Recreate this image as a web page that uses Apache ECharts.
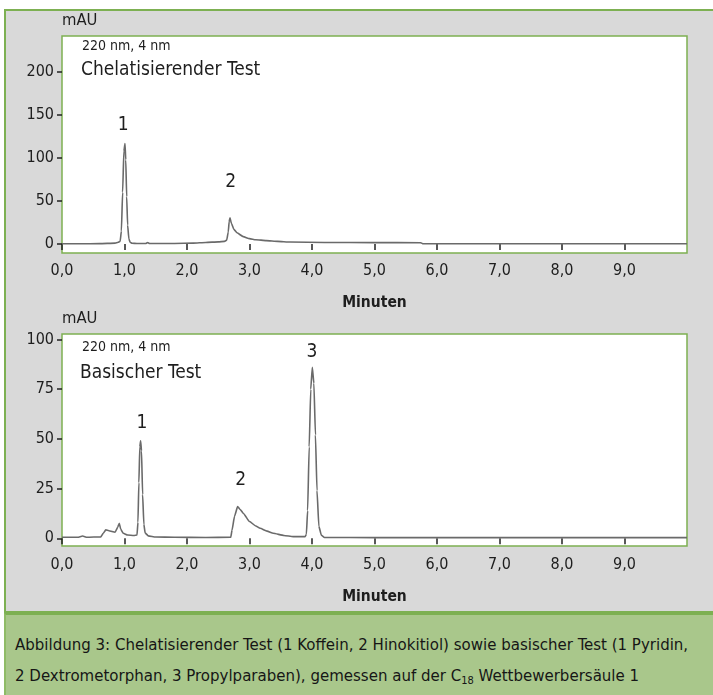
<!DOCTYPE html>
<html>
<head>
<meta charset="utf-8">
<script src="https://cdn.jsdelivr.net/npm/echarts@6/dist/echarts.min.js"></script>
<style>
html,body{margin:0;padding:0;background:#fff;}
#wrap{position:relative;width:713px;height:695px;overflow:hidden;background:#fff;}
#panel{position:absolute;left:4px;top:9px;width:720px;height:604px;background:#d9d9d9;border:2px solid #7db052;box-sizing:border-box;}
#caption{position:absolute;left:4px;top:613px;width:720px;height:90px;background:#a9c78b;border-top:2px solid #7db052;border-left:2px solid #8fbb66;box-sizing:border-box;
 font-family:"DejaVu Sans Condensed","DejaVu Sans",sans-serif;font-size:16.7px;color:#161616;line-height:31px;padding:14px 0 0 9px;white-space:nowrap;}
#caption sub{font-size:11px;vertical-align:-3px;line-height:0;}
#chart{position:absolute;left:0;top:0;width:713px;height:613px;}
</style>
</head>
<body>
<div id="wrap">
<div id="panel"></div>
<div id="caption">Abbildung 3: Chelatisierender Test (1 Koffein, 2 Hinokitiol) sowie basischer Test (1 Pyridin,<br>2 Dextrometorphan, 3 Propylparaben), gemessen auf der C<sub>18</sub> Wettbewerbersäule 1</div>
<div id="chart"></div>
</div>
<script>
// ---- Data ----
// Top: Chelatisierender Test
var chelTime  = [0, 0.3, 0.6, 0.85, 0.9, 0.93, 0.95, 0.97, 0.99, 1.008, 1.02, 1.035, 1.05, 1.07, 1.09, 1.12, 1.2, 1.34, 1.37, 1.4, 1.5, 1.8, 2.1, 2.3, 2.5, 2.6, 2.635, 2.66, 2.675, 2.688, 2.71, 2.75, 2.8, 2.9, 3.0, 3.1, 3.27, 3.45, 3.65, 4.2, 5.0, 5.74, 5.77, 7.0, 8.5, 10.0];
var chelValue = [0.3, 0.3, 0.4, 1.0, 2.0, 3.0, 15, 60, 108, 117, 98, 55, 22, 6, 2.0, 0.8, 0.5, 0.6, 1.6, 0.6, 0.5, 0.6, 1.0, 1.8, 2.4, 3.0, 4.5, 14, 26, 30.5, 24, 17, 13, 8.5, 6.2, 5.0, 3.9, 3.0, 2.3, 1.8, 1.6, 1.5, 0.3, 0.3, 0.3, 0.3];
// Bottom: Basischer Test
var basTime  = [0, 0.25, 0.33, 0.4, 0.62, 0.66, 0.70, 0.75, 0.85, 0.89, 0.917, 0.94, 0.98, 1.05, 1.15, 1.2, 1.215, 1.23, 1.245, 1.258, 1.272, 1.29, 1.31, 1.33, 1.38, 1.5, 1.8, 2.3, 2.7, 2.72, 2.76, 2.81, 2.85, 2.9, 3.0, 3.1, 3.17, 3.28, 3.38, 3.55, 3.7, 3.89, 3.91, 3.93, 3.955, 3.98, 4.005, 4.03, 4.055, 4.08, 4.11, 4.15, 4.2, 5.0, 7.0, 10.0];
var basValue = [0.5, 0.5, 1.1, 0.5, 0.7, 2.5, 4.2, 3.8, 3.0, 5.5, 7.5, 4.5, 2.5, 1.6, 1.4, 1.6, 8, 28, 46, 49, 44, 22, 7, 2.7, 1.2, 0.6, 0.5, 0.4, 0.5, 4, 11, 15.9, 14.5, 12.6, 8.4, 6.2, 5.0, 3.6, 2.5, 1.4, 0.8, 0.8, 2, 14, 46, 75, 86, 78, 52, 24, 6, 1.5, 0.4, 0.3, 0.3, 0.3];
// Peak labels: [time, label position in data units, text]
var chelPeaks = [[0.98, 138, '1'], [2.70, 72, '2']];
var basPeaks  = [[1.28, 58, '1'], [2.86, 29.5, '2'], [4.0, 93.5, '3']];
var xTicks = [0,1,2,3,4,5,6,7,8,9];
var chelYTicks = [0, 50, 100, 150, 200];
var basYTicks  = [0, 25, 50, 75, 100];

function zip(a, b){ return a.map(function(t, i){ return [t, b[i]]; }); }
var FONT = '"DejaVu Sans Condensed","DejaVu Sans",sans-serif';
var TXT = '#1e1e1e';
var GREEN = '#7db052';

function xAxisCfg(gi, nameGap, margin){
  return {
    type:'value', gridIndex:gi, min:0, max:10,
    axisLine:{show:false},
    splitLine:{show:false},
    axisTick:{show:true, length:6, lineStyle:{color:'#222', width:1.5}, customValues:xTicks},
    axisLabel:{customValues:xTicks, margin:margin, fontFamily:FONT, fontSize:16, color:TXT,
      formatter:function(v){ return v.toFixed(1).replace('.', ','); }},
    name:'Minuten', nameLocation:'middle', nameGap:nameGap,
    nameTextStyle:{fontFamily:FONT, fontSize:15.5, fontWeight:'bold', color:TXT}
  };
}
function yAxisCfg(gi, min, max, ticks){
  return {
    type:'value', gridIndex:gi, min:min, max:max,
    axisLine:{show:false},
    splitLine:{show:false},
    axisTick:{show:true, length:5, lineStyle:{color:'#222', width:1.5}, customValues:ticks},
    axisLabel:{customValues:ticks, margin:8, fontFamily:FONT, fontSize:16, color:TXT},
    name:'mAU', nameLocation:'end', nameGap:7,
    nameTextStyle:{fontFamily:FONT, fontSize:16.5, color:TXT, align:'left'}
  };
}
function lineSeries(xi, yi, data){
  return {
    type:'line', xAxisIndex:xi, yAxisIndex:yi, data:data, showSymbol:false, symbol:'none',
    smooth:0.15, smoothMonotone:'x', animation:false,
    lineStyle:{color:'#6a6a6a', width:1.6}
  };
}
function labelSeries(xi, yi, peaks){
  return {
    type:'scatter', xAxisIndex:xi, yAxisIndex:yi, silent:true, animation:false,
    symbol:'circle', symbolSize:1, itemStyle:{color:'rgba(0,0,0,0)'},
    label:{show:true, position:'inside', fontFamily:FONT, fontSize:19, color:TXT,
      textBorderWidth:0, textBorderColor:'transparent', opacity:1,
      formatter:function(p){ return p.data[2]; }},
    data: peaks
  };
}

var chart = echarts.init(document.getElementById('chart'), null, {renderer:'canvas'});
chart.setOption({
  animation:false,
  backgroundColor:'transparent',
  grid:[
    {left:62, top:36, width:625, height:217, show:true, backgroundColor:'#ffffff', borderColor:GREEN, borderWidth:1.5},
    {left:62, top:334, width:625, height:212, show:true, backgroundColor:'#ffffff', borderColor:GREEN, borderWidth:1.5}
  ],
  xAxis:[ xAxisCfg(0, 42, 10), xAxisCfg(1, 43, 11) ],
  yAxis:[ yAxisCfg(0, -10.5, 242, chelYTicks), yAxisCfg(1, -3.9, 102.8, basYTicks) ],
  graphic:[
    {type:'text', left:82, top:39, style:{text:'220 nm, 4 nm', font:'14px ' + FONT, fill:TXT}},
    {type:'text', left:81, top:61, style:{text:'Chelatisierender Test', font:'19px ' + FONT, fill:TXT}},
    {type:'text', left:82, top:340, style:{text:'220 nm, 4 nm', font:'14px ' + FONT, fill:TXT}},
    {type:'text', left:80, top:364, style:{text:'Basischer Test', font:'19px ' + FONT, fill:TXT}}
  ],
  series:[
    lineSeries(0, 0, zip(chelTime, chelValue)),
    lineSeries(1, 1, zip(basTime, basValue)),
    labelSeries(0, 0, chelPeaks),
    labelSeries(1, 1, basPeaks)
  ]
});
</script>
</body>
</html>
